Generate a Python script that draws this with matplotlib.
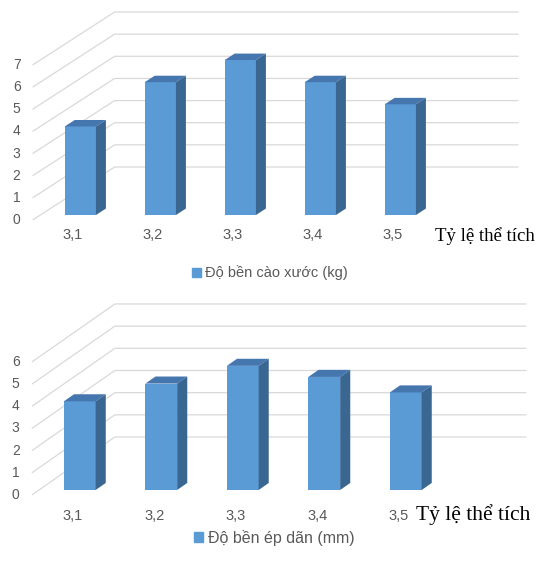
import numpy as np
import matplotlib.pyplot as plt
from matplotlib.patches import Polygon, Patch

plt.rcParams['font.family'] = ['Liberation Sans', 'DejaVu Sans']

# data
ratios = ['3,1', '3,2', '3,3', '3,4', '3,5']
scratch_kg = [4.0, 6.0, 7.0, 6.0, 5.0]
compress_mm = [4.0, 4.8, 5.6, 5.1, 4.4]
xlabel = 'Tỷ lệ thể tích'

FRONT = '#5B9BD5'
TOP = '#4676AE'
SIDE = '#3A6792'
GRID = '#D9D9D9'
TXT = '#595959'

W, H = 539, 564
fig = plt.figure(figsize=(W / 100, H / 100), dpi=100)


def fake3d(ax, values, ymax, depth, t0, legend_label, leg_xy, leg_size,
           lab_y, xl_size, xl_pos):
    Dx, Dy = depth            # floor-front -> back-wall offset in data units
    x0, x1 = -0.5, 4.55       # floor extent along categories
    # gridlines: side wall diagonals + back wall horizontals
    for v in range(ymax + 1):
        ax.plot([x0, x0 + Dx, x1 + Dx], [v, v + Dy, v + Dy],
                color=GRID, lw=0.9, zorder=1, solid_capstyle='butt')
        ax.text(x0 - 0.15, v, str(v), ha='right', va='center',
                fontsize=10, color=TXT)

    # bars: front face, then top and right side faces
    w = 0.39
    td = 0.122
    bx = np.arange(len(values)) + t0 * Dx
    bb = t0 * Dy
    ax.bar(bx, values, w, bottom=bb, color=FRONT, zorder=3)
    ddx, ddy = td * Dx, td * Dy
    for x, v in zip(bx, values):
        xl, xr, yt = x - w / 2, x + w / 2, bb + v
        ax.add_patch(Polygon([(xl, yt), (xr, yt), (xr + ddx, yt + ddy),
                              (xl + ddx, yt + ddy)], closed=True,
                             facecolor=TOP, edgecolor='none', zorder=3))
        ax.add_patch(Polygon([(xr, bb), (xr, yt), (xr + ddx, yt + ddy),
                              (xr + ddx, bb + ddy)], closed=True,
                             facecolor=SIDE, edgecolor='none', zorder=3))

    for i, lab in enumerate(ratios):
        ax.text(i, lab_y, lab, ha='center', va='center',
                fontsize=10.5, color=TXT)
    ax.text(xl_pos[0], xl_pos[1], xlabel, ha='left', va='center',
            fontsize=xl_size, family='Liberation Serif', color='black')

    leg = fig.legend(handles=[Patch(color=FRONT, label=legend_label)],
                     loc='center', bbox_to_anchor=leg_xy, frameon=False,
                     handlelength=0.6, handleheight=0.6, handletextpad=0.3,
                     fontsize=leg_size)
    for t in leg.get_texts():
        t.set_color(TXT)
    ax.axis('off')


# top chart: pixel rows 0..290
ax1 = fig.add_axes([0, (H - 290) / H, 1, 290 / H])
ax1.set_xlim((0 - 72.6) / 80, (W - 72.6) / 80)
ax1.set_ylim((220 - 290) / 22.14, 220 / 22.14)
fake3d(ax1, scratch_kg, 7, (82 / 80, 53 / 22.14), 0.094,
       'Độ bền cào xước (kg)', (270 / W, 1 - 273 / H), 10.5,
       (220 - 235) / 22.14, 13.5, ((435 - 72.6) / 80, (220 - 236) / 22.14))

# bottom chart: pixel rows 290..564
ax2 = fig.add_axes([0, 0, 1, (H - 290) / H])
ax2.set_xlim((0 - 72.6) / 81.5, (W - 72.6) / 81.5)
ax2.set_ylim((495 - 564) / 22.17, (495 - 290) / 22.17)
fake3d(ax2, compress_mm, 6, (83 / 81.5, 58 / 22.17), 0.086,
       'Độ bền ép dãn (mm)', (274 / W, 1 - 538 / H), 11.5,
       (495 - 516) / 22.17, 15.5, ((416 - 72.6) / 81.5, (495 - 515) / 22.17))

fig.savefig('out.png', dpi=100)
